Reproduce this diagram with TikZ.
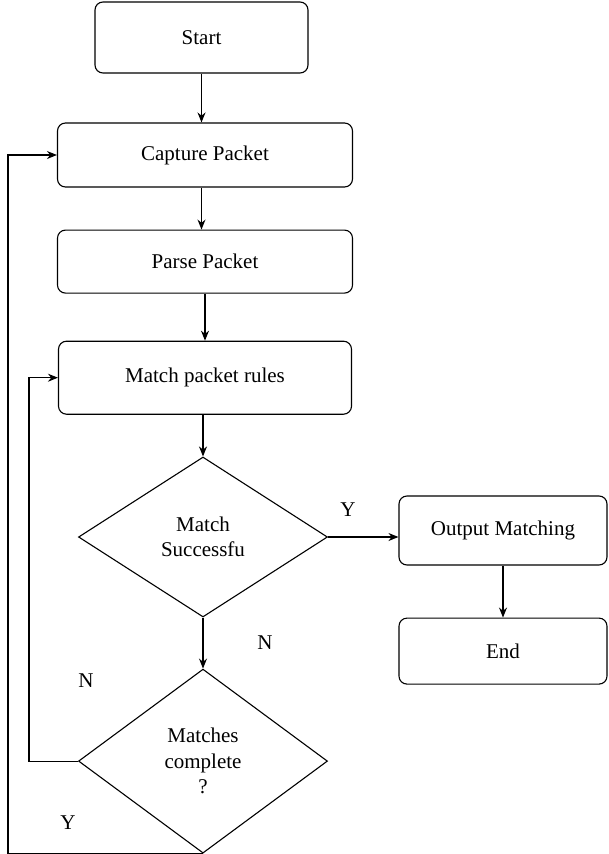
\documentclass[tikz,border=0pt]{standalone}
\usepackage{fontspec}
\setmainfont{Liberation Serif}
\usetikzlibrary{arrows.meta,positioning,shapes.geometric}
\tikzset{
  post/.style     = {-{Stealth[length=10pt,width=8pt]}, line width=1.1pt},
  stepbox/.style  = {draw, rectangle, rounded corners=8pt, line width=1.1pt, inner sep=0pt,
                     minimum width=295pt, minimum height=64pt, font=\fontsize{21}{25.5}\selectfont},
  decision/.style = {draw, diamond, line width=1.1pt, inner sep=0pt, align=center,
                     minimum width=249pt, minimum height=160pt, font=\fontsize{21}{25.5}\selectfont},
  answer/.style   = {font=\fontsize{21}{24}\selectfont},
  skip loop/.style={to path={-- ++(#1,0) |- (\tikztotarget)}}
}

\begin{document}
\begin{tikzpicture}[x=1pt, y=-1pt]
    \useasboundingbox (0,0) rectangle (608,854);

    \node[stepbox, minimum width=213pt, minimum height=71pt] (start) at (201.5,37.5) {Start};
    \node[stepbox] (capture) at (205,155) {Capture Packet};
    \node[stepbox, minimum height=63pt] (parse) [below=42pt of capture] {Parse Packet};
    \node[stepbox, minimum width=293pt, minimum height=73pt] (match) [below=47pt of parse] {Match packet rules};
    \node[decision] (success) at (203,537) {Match\\Successfu};
    \node[decision, minimum height=184pt] (complete) [below=51pt of success] {Matches\\complete\\?};

    \node[stepbox, minimum width=208pt, minimum height=69pt] (output) at (503,530.5) {Output Matching};
    \node[stepbox, minimum width=208pt, minimum height=66pt] (end) [below=52pt of output] {End};

    \draw[post] (start.south) -- (start.south |- capture.north);
    \draw[post] (capture.south -| start.south) -- (parse.north -| start.south);
    \draw[post] (parse.south) -- (match.north);
    \draw[post] (match.south -| success.north) -- (success.north);
    \draw[post] (success.east) -- (success.east -| output.west);
    \draw[post] (output.south) -- (end.north);
    \draw[post] (success.south) -- (complete.north);

    \draw (complete.west) edge[post, skip loop=-49] (match.west);
    \draw (complete.south) edge[post, skip loop=-195] (capture.west);

    \node[answer] (yes out) at (348,510) {Y};
    \node[answer] (no out) at (265,643) {N};
    \node[answer] (no back) at (86,681) {N};
    \node[answer] (yes back) at (68,823) {Y};
\end{tikzpicture}
\end{document}
